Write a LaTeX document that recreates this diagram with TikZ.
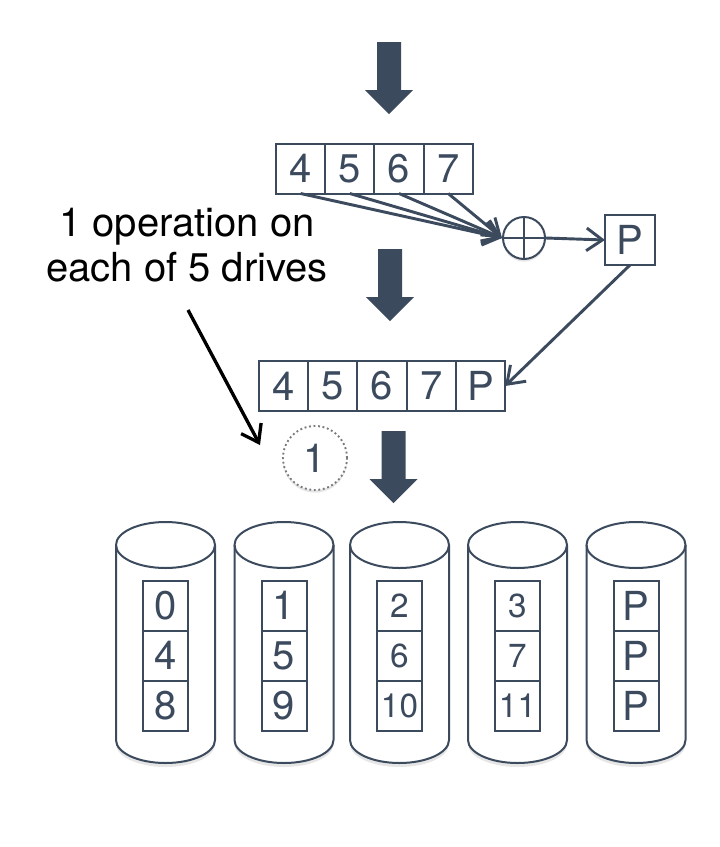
\documentclass[tikz,border=0pt]{standalone}
\usepackage{fontspec}
\setmainfont{TeX Gyre Heros}
\usetikzlibrary{positioning, arrows.meta, shadows}
\definecolor{ink}{RGB}{60,74,94}
\definecolor{dotgray}{RGB}{120,120,125}

\begin{document}
\begin{tikzpicture}[x=0.75pt, y=-0.75pt,
  font=\fontsize{30}{33.75}\selectfont,
  cell/.style={draw=ink, line width=1.5pt, text=ink, minimum width=36.9pt, minimum height=37.5pt, inner sep=0pt, outer sep=0pt},
  dcell/.style={cell, minimum width=33.75pt},
  smalltext/.style={font=\fontsize{25}{28}\selectfont},
  link/.style={draw=ink, line width=2.2pt, -{Straight Barb[length=12pt, width=17pt]}},
  disk/.style={draw=ink, line width=1.5pt, fill=white},
  bigarrow/.pic={\fill[ink] (-12,0) -- (12,0) -- (12,48) -- (24,48) -- (0,72) -- (-24,48) -- (-12,48) -- cycle;}]

  \useasboundingbox (0,0) rectangle (720,847);

  % big arrows
  \pic at (389,42) {bigarrow};
  \pic at (390,249) {bigarrow};
  \pic at (393.5,431) {bigarrow};

  % stripe
  \node[cell] (t4) at (300.6,168.5) {4};
  \node[cell, right=0pt of t4] (t5) {5};
  \node[cell, right=0pt of t5] (t6) {6};
  \node[cell, right=0pt of t6] (t7) {7};

  % parity
  \node[draw=ink, line width=1.5pt, circle, fill=white, minimum size=31.5pt, inner sep=0pt,
        drop shadow={shadow xshift=0pt, shadow yshift=-2pt, opacity=0.2}] (xor) at (524,238) {};
  \draw[ink, line width=1.5pt] (xor.north) -- (xor.south);
  \draw[ink, line width=1.5pt] (xor.west) -- (xor.east);
  \node[cell, minimum width=37.5pt] (p) at (630,240) {P};

  % stripe with parity
  \node[cell] (r4) at (283.6,386) {4};
  \node[cell, right=0pt of r4] (r5) {5};
  \node[cell, right=0pt of r5] (r6) {6};
  \node[cell, right=0pt of r6] (r7) {7};
  \node[cell, right=0pt of r7] (rP) {P};

  % note
  \node[align=center] (note) at (187,245.5) {1 operation on\\each of 5 drives};
  \coordinate (nfrom) at (188,310);
  \coordinate (nto) at (260,445);
  \node[circle, draw=dotgray, dotted, line width=1.4pt, fill=white, text=ink, minimum size=48pt, inner sep=0pt,
        drop shadow={shadow xshift=0pt, shadow yshift=-2pt, opacity=0.2}] (one) at (315,458) {1};

  % arcs
  \draw[link] (t4.south) -- (xor.west);
  \draw[link] (t5.south) -- (xor.west);
  \draw[link] (t6.south) -- (xor.west);
  \draw[link] (t7.south) -- (xor.west);
  \draw[link] (xor.east) -- (p.west);
  \draw[link] (p.south) -- (rP.east);
  \draw[black, line width=2.5pt, -{Straight Barb[length=12pt, width=17pt]}] (nfrom) -- (nto);

  % drives
  \foreach \cx in {165.5,284,399.5,517.5,636} {
    \draw[disk, drop shadow={shadow xshift=0pt, shadow yshift=-3pt, opacity=0.2}]
      ({\cx-49.5},545) -- ({\cx-49.5},740) arc[start angle=180, end angle=0, x radius=49.5, y radius=23]
      -- ({\cx+49.5},545) arc[start angle=0, end angle=-180, x radius=49.5, y radius=23] -- cycle;
    \draw[ink, line width=1.5pt] ({\cx-49.5},545) arc[start angle=180, end angle=0, x radius=49.5, y radius=23];
  }

  % blocks on the drives
  \node[dcell] (d0) at (165.5,605.5) {0};
  \node[dcell, below=0pt of d0] (d4) {4};
  \node[dcell, below=0pt of d4] (d8) {8};
  \node[dcell] (d1) at (284,605.5) {1};
  \node[dcell, below=0pt of d1] (d5) {5};
  \node[dcell, below=0pt of d5] (d9) {9};
  \node[dcell, smalltext] (d2) at (399.5,605.5) {2};
  \node[dcell, smalltext, below=0pt of d2] (d6) {6};
  \node[dcell, smalltext, below=0pt of d6] (d10) {10};
  \node[dcell, smalltext] (d3) at (517.5,605.5) {3};
  \node[dcell, smalltext, below=0pt of d3] (d7) {7};
  \node[dcell, smalltext, below=0pt of d7] (d11) {11};
  \node[dcell] (dP1) at (636,605.5) {P};
  \node[dcell, below=0pt of dP1] (dP2) {P};
  \node[dcell, below=0pt of dP2] (dP3) {P};

\end{tikzpicture}
\end{document}
